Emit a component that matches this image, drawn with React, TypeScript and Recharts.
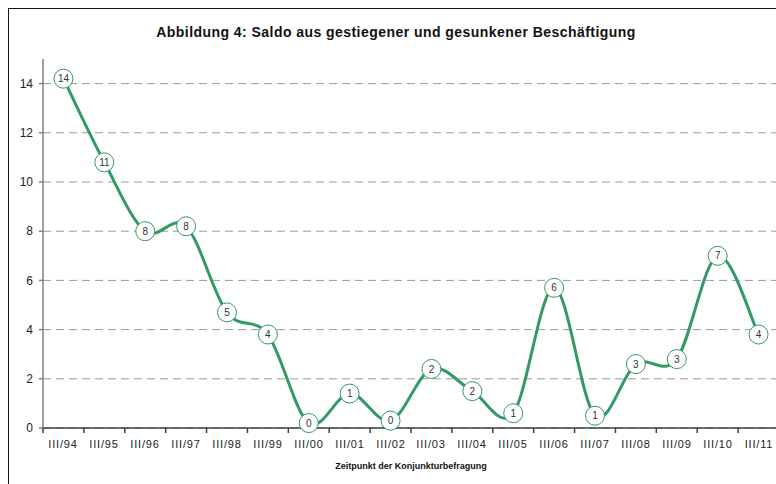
import React from 'react';
import { ComposedChart, Line, XAxis, YAxis, CartesianGrid } from 'recharts';

const categories = ['III/94', 'III/95', 'III/96', 'III/97', 'III/98', 'III/99', 'III/00', 'III/01', 'III/02', 'III/03', 'III/04', 'III/05', 'III/06', 'III/07', 'III/08', 'III/09', 'III/10', 'III/11'];
const saldo = [14.2, 10.8, 8.0, 8.2, 4.7, 3.8, 0.2, 1.4, 0.3, 2.4, 1.5, 0.6, 5.7, 0.5, 2.6, 2.8, 7.0, 3.8];
const pointLabels = ['14', '11', '8', '8', '5', '4', '0', '1', '0', '2', '2', '1', '6', '1', '3', '3', '7', '4'];
const yTicks = [0, 2, 4, 6, 8, 10, 12, 14];

const data = categories.map((c, i) => ({ cat: c, saldo: saldo[i], label: pointLabels[i] }));

const FONT = '"Liberation Sans", Arial, sans-serif';
const GREEN = '#339966';

// Excel-like smoothed line (Catmull-Rom through points)
const smoothCurve = (context: any) => {
  let pts: number[][] = [];
  return {
    areaStart() {},
    areaEnd() {},
    lineStart() { pts = []; },
    point(x: number, y: number) { pts.push([+x, +y]); },
    lineEnd() {
      const n = pts.length;
      if (!n) return;
      context.moveTo(pts[0][0], pts[0][1]);
      for (let i = 0; i < n - 1; i++) {
        const p0 = pts[i - 1] || pts[i];
        const p1 = pts[i];
        const p2 = pts[i + 1];
        const p3 = pts[i + 2] || p2;
        context.bezierCurveTo(
          p1[0] + (p2[0] - p0[0]) / 6, p1[1] + (p2[1] - p0[1]) / 6,
          p2[0] - (p3[0] - p1[0]) / 6, p2[1] - (p3[1] - p1[1]) / 6,
          p2[0], p2[1]
        );
      }
    },
  };
};

const XTick = (props: any) => {
  const { x, y, payload, index } = props;
  const off = (payload && payload.offset) || 0;
  const last = index === categories.length - 1;
  return (
    <g>
      <line x1={x - off} x2={x - off} y1={y} y2={y + 5} stroke="#404040" strokeWidth={1.5} />
      {last && <line x1={x + off} x2={x + off} y1={y} y2={y + 5} stroke="#404040" strokeWidth={1.5} />}
      <text x={Math.round(x)} y={y + 12} dy="0.71em" textAnchor="middle" fontSize={11} letterSpacing={0.8} fill="#222" fontFamily={FONT}>
        {payload.value}
      </text>
    </g>
  );
};

const Dot = (p: any) => {
  const { cx, cy, index } = p;
  if (cx == null || cy == null) return <g key={`d${index}`} />;
  return (
    <g key={`d${index}`}>
      <circle cx={cx} cy={cy} r={9.5} fill="#fff" stroke={GREEN} strokeWidth={1} />
      <text x={cx} y={cy} dy="0.36em" textAnchor="middle" fontSize={10} fill="#333" fontFamily={FONT}>
        {pointLabels[index]}
      </text>
    </g>
  );
};

export default function App() {
  return (
    <div style={{ position: 'fixed', left: 8, top: 8, width: 768, height: 476, overflow: 'hidden', background: '#fff', fontFamily: FONT }}>
      <div style={{ position: 'absolute', left: -1, top: -1, width: 800, height: 2, background: '#111' }} />
      <div style={{ position: 'absolute', left: -1, top: -1, width: 2, height: 500, background: '#111' }} />
      <div style={{ position: 'absolute', left: 0, top: 16, width: 776, textAlign: 'center', fontSize: 14, letterSpacing: 0.45, fontWeight: 'bold', lineHeight: '16px', color: '#111' }}>
        Abbildung 4: Saldo aus gestiegener und gesunkener Beschäftigung
      </div>
      <div style={{ position: 'absolute', left: 0, top: 0 }}>
        <ComposedChart width={780} height={476} data={data} margin={{ top: 51, right: 9, bottom: 0, left: 0 }}>
          <CartesianGrid vertical={false} horizontalValues={yTicks} stroke="#999" strokeDasharray="8 5" strokeWidth={1} />
          <XAxis
            dataKey="cat"
            scale="band"
            interval={0}
            height={56}
            tickSize={0}
            tickMargin={0}
            tickLine={false}
            axisLine={{ stroke: '#404040', strokeWidth: 1.5 }}
            tick={<XTick />}
            label={{ value: 'Zeitpunkt der Konjunkturbefragung', position: 'insideBottom', offset: 15, style: { fontWeight: 'bold', fontSize: 9, fill: '#111', fontFamily: FONT } }}
          />
          <YAxis
            width={35}
            domain={[0, 15]}
            ticks={yTicks}
            interval={0}
            tickSize={4}
            tickMargin={6}
            axisLine={{ stroke: '#808080', strokeWidth: 1.5 }}
            tickLine={{ stroke: '#808080', strokeWidth: 1.5 }}
            tick={{ fontSize: 12, fill: '#222', fontFamily: FONT }}
          />
          <Line
            dataKey="saldo"
            type={smoothCurve as any}
            stroke={GREEN}
            strokeWidth={3}
            dot={Dot}
            activeDot={false}
            isAnimationActive={false}
          />
        </ComposedChart>
      </div>
    </div>
  );
}
